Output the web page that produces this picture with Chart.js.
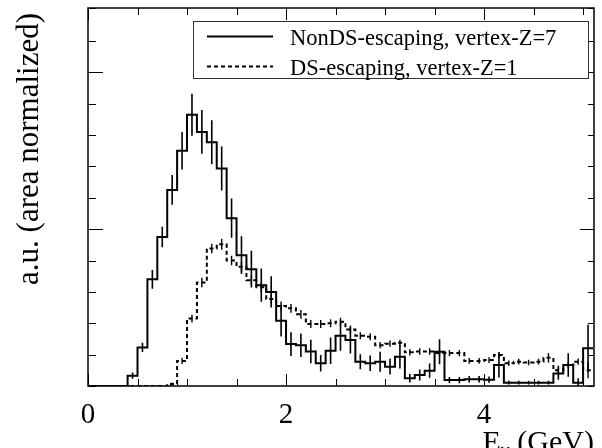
<!DOCTYPE html>
<html>
<head>
<meta charset="utf-8">
<script src="https://cdn.jsdelivr.net/npm/chart.js@4/dist/chart.umd.min.js"></script>
<style>
  body { margin: 0; background: #fff; }
  canvas { display: block; }
</style>
</head>
<body>
<canvas id="myChart" width="602" height="448"></canvas>
<script>
// bin low edges (GeV), width 0.1
const binLow = [0.0, 0.1, 0.2, 0.3, 0.4, 0.5, 0.6, 0.7, 0.8, 0.9,
  1.0, 1.1, 1.2, 1.3, 1.4, 1.5, 1.6, 1.7, 1.8, 1.9,
  2.0, 2.1, 2.2, 2.3, 2.4, 2.5, 2.6, 2.7, 2.8, 2.9,
  3.0, 3.1, 3.2, 3.3, 3.4, 3.5, 3.6, 3.7, 3.8, 3.9,
  4.0, 4.1, 4.2, 4.3, 4.4, 4.5, 4.6, 4.7, 4.8, 4.9, 5.0];
const binWidth = 0.1;

const nonDS = [0, 0, 0, 0, 0.066, 0.246, 0.68, 0.95, 1.25, 1.50,
  1.73, 1.62, 1.554, 1.387, 1.07, 0.834, 0.745, 0.643, 0.60, 0.416,
  0.267, 0.26, 0.22, 0.145, 0.225, 0.32, 0.293, 0.155, 0.145, 0.155,
  0.123, 0.187, 0.049, 0.07, 0.098, 0.218, 0.038, 0.038, 0.043, 0.043,
  0.04, 0.134, 0.021, 0.021, 0.021, 0.021, 0.021, 0.08, 0.134, 0.02, 0.24];
const nonDSErr = [0, 0, 0, 0, 0.02, 0.03, 0.06, 0.065, 0.095, 0.12,
  0.134, 0.14, 0.14, 0.14, 0.125, 0.12, 0.117, 0.106, 0.10, 0.10,
  0.075, 0.075, 0.075, 0.053, 0.085, 0.095, 0.085, 0.048, 0.05, 0.064,
  0.05, 0.075, 0.027, 0.035, 0.045, 0.08, 0.02, 0.02, 0.02, 0.02,
  0.02, 0.08, 0.012, 0.012, 0.012, 0.012, 0.012, 0.04, 0.075, 0.03, 0.15];

const ds = [0, 0, 0, 0, 0, 0, 0, 0, 0.013, 0.16,
  0.43, 0.66, 0.877, 0.904, 0.80, 0.76, 0.675, 0.63, 0.554, 0.51,
  0.495, 0.457, 0.395, 0.395, 0.40, 0.41, 0.36, 0.32, 0.314, 0.26,
  0.27, 0.275, 0.215, 0.22, 0.22, 0.21, 0.21, 0.21, 0.16, 0.16,
  0.165, 0.197, 0.145, 0.155, 0.15, 0.155, 0.18, 0.10, 0.134, 0.155, 0.10];
const dsErr = [0, 0, 0, 0, 0, 0, 0, 0, 0.01, 0.02,
  0.025, 0.03, 0.03, 0.035, 0.03, 0.03, 0.03, 0.03, 0.03, 0.028,
  0.028, 0.028, 0.025, 0.025, 0.025, 0.025, 0.025, 0.022, 0.022, 0.02,
  0.02, 0.02, 0.02, 0.02, 0.02, 0.02, 0.02, 0.02, 0.018, 0.018,
  0.018, 0.02, 0.018, 0.018, 0.018, 0.018, 0.03, 0.03, 0.02, 0.02, 0.05];

const xLabels = [0, 2, 4];
const legendLabels = ["NonDS-escaping, vertex-Z=7", "DS-escaping, vertex-Z=1"];
const yTitle = "a.u. (area normalized)";

const serif = "'Liberation Serif', 'DejaVu Serif', serif";

function stepPoints(vals) {
  const pts = binLow.map((x, i) => ({ x, y: vals[i] }));
  pts.push({ x: binLow[binLow.length - 1] + binWidth, y: vals[vals.length - 1] });
  return pts;
}

function errPoints(vals, errs) {
  const pts = [];
  binLow.forEach((x, i) => {
    if (!errs[i]) return;
    const c = x + binWidth / 2;
    pts.push({ x: c, y: vals[i] - errs[i] }, { x: c, y: vals[i] + errs[i] }, { x: c, y: null });
  });
  return pts;
}

// ROOT-like frame: inside ticks, legend box, axis titles
const rootFrame = {
  id: "rootFrame",
  afterDraw(chart) {
    const { ctx, chartArea: a, scales: { x, y } } = chart;
    const line = (x1, y1, x2, y2) => { ctx.beginPath(); ctx.moveTo(x1, y1); ctx.lineTo(x2, y2); ctx.stroke(); };
    ctx.save();
    ctx.strokeStyle = "#000";
    ctx.lineWidth = 1;
    x.ticks.forEach(t => {
      const px = Math.round(x.getPixelForValue(t.value)) + 0.5;
      const len = xLabels.includes(t.value) ? 12 : 7;
      line(px, a.bottom, px, a.bottom - len);
      line(px, a.top, px, a.top + len);
    });
    y.ticks.forEach(t => {
      const py = Math.round(y.getPixelForValue(t.value)) + 0.5;
      const major = t.value > 0 && Math.abs(t.value - Math.round(t.value)) < 1e-6;
      line(a.left, py, a.left + (major ? 15 : 8), py);
      line(a.right, py, a.right - (major ? 14 : 6), py);
    });
    ctx.lineWidth = 1.5;
    ctx.strokeRect(a.left, a.top, a.right - a.left, a.bottom - a.top);

    // legend
    ctx.fillStyle = "#fff";
    ctx.fillRect(193, 21.5, 395, 57);
    ctx.strokeStyle = "#333";
    ctx.lineWidth = 1;
    ctx.strokeRect(193.5, 21.5, 395, 57);
    const sets = chart.data.datasets;
    [0, 1].forEach(i => {
      const ly = i === 0 ? 36.5 : 66.5;
      ctx.strokeStyle = "#000";
      ctx.lineWidth = sets[i].borderWidth;
      ctx.setLineDash(sets[i].borderDash || []);
      line(207, ly, 273, ly);
      ctx.setLineDash([]);
      ctx.fillStyle = "#000";
      ctx.font = "22.5px " + serif;
      ctx.textAlign = "left";
      ctx.textBaseline = "alphabetic";
      ctx.fillText(legendLabels[i], 290, i === 0 ? 44.5 : 74.5);
    });

    // y title
    ctx.save();
    ctx.translate(30, 13);
    ctx.rotate(-Math.PI / 2);
    ctx.font = "31px " + serif;
    ctx.textAlign = "right";
    ctx.textBaseline = "middle";
    ctx.fillText(yTitle, 0, 0);
    ctx.restore();

    // x title: E_nu (GeV)
    ctx.textBaseline = "alphabetic";
    ctx.textAlign = "left";
    const big = "30px " + serif, small = "20px " + serif;
    ctx.font = big;
    const wE = ctx.measureText("E").width, wRest = ctx.measureText(" (GeV)").width;
    ctx.font = small;
    const wNu = ctx.measureText("\u03bd").width;
    let tx = 594 - (wE + wNu + wRest);
    const base = 451;
    ctx.font = big;
    ctx.fillText("E", tx, base);
    tx += wE;
    ctx.font = small;
    ctx.fillText("\u03bd", tx, base + 6);
    tx += wNu;
    ctx.font = big;
    ctx.fillText(" (GeV)", tx, base);
    ctx.restore();
  }
};

const chart = new Chart(document.getElementById("myChart"), {
  type: "line",
  data: {
    datasets: [
      { label: legendLabels[0], data: stepPoints(nonDS), stepped: "before", borderColor: "#000", borderWidth: 2, pointRadius: 0, fill: false },
      { label: legendLabels[1], data: stepPoints(ds), stepped: "before", borderColor: "#000", borderWidth: 2, borderDash: [4, 3], pointRadius: 0, fill: false },
      { label: "err1", data: errPoints(nonDS, nonDSErr), borderColor: "#000", borderWidth: 1.6, pointRadius: 0, spanGaps: false, fill: false },
      { label: "err2", data: errPoints(ds, dsErr), borderColor: "#000", borderWidth: 1.4, pointRadius: 0, spanGaps: false, fill: false }
    ]
  },
  options: {
    responsive: false,
    animation: false,
    devicePixelRatio: 1,
    layout: { padding: { top: 8, right: 8, left: 0, bottom: 0 } },
    plugins: { legend: { display: false }, tooltip: { enabled: false } },
    scales: {
      x: {
        type: "linear",
        min: 0,
        max: 5.11,
        grid: { display: false },
        border: { display: false },
        ticks: {
          stepSize: 0.5,
          includeBounds: false,
          autoSkip: false,
          maxRotation: 0,
          padding: 4,
          color: "#000",
          font: { family: serif, size: 29 },
          callback: v => xLabels.includes(v) ? String(v) : ""
        },
        afterFit: s => { s.height = 62; }
      },
      y: {
        min: 0,
        max: 2.41,
        grid: { display: false },
        border: { display: false },
        ticks: { display: false, stepSize: 0.2 },
        afterFit: s => { s.width = 88; }
      }
    }
  },
  plugins: [rootFrame]
});
</script>
</body>
</html>
